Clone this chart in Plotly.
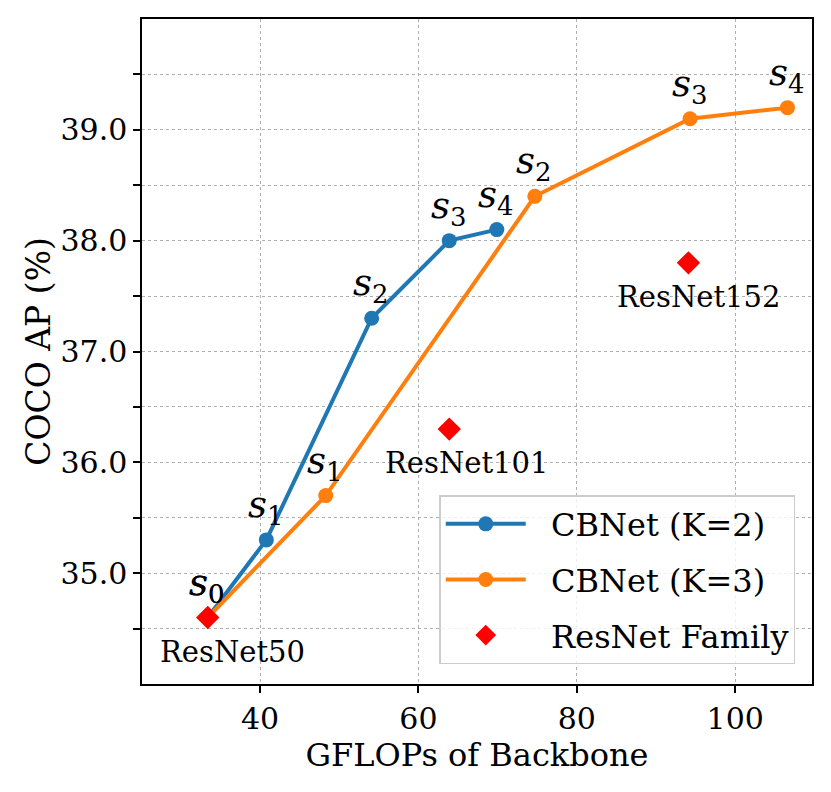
import plotly.graph_objects as go

# Data
k2_gflops = [33.4, 40.8, 54.1, 63.9, 69.9]
k2_ap = [34.6, 35.3, 37.3, 38.0, 38.1]
k3_gflops = [33.4, 48.3, 74.7, 94.3, 106.6]
k3_ap = [34.6, 35.7, 38.4, 39.1, 39.2]
stage_labels = ["0", "1", "2", "3", "4"]
resnet_names = ["ResNet50", "ResNet101", "ResNet152"]
resnet_gflops = [33.4, 63.9, 94.1]
resnet_ap = [34.6, 36.3, 37.8]
series_names = ["CBNet (K=2)", "CBNet (K=3)", "ResNet Family"]

FONT = "DejaVu Serif"
BLUE = "#1f77b4"
ORANGE = "#ff7f0e"
PAD = "\u00a0\u00a0"

fig = go.Figure()
fig.add_trace(go.Scatter(x=k2_gflops, y=k2_ap, mode="lines+markers", name=PAD + series_names[0],
                         line=dict(color=BLUE, width=4), marker=dict(size=15, color=BLUE),
                         legendgroup="a"))
fig.add_trace(go.Scatter(x=k3_gflops, y=k3_ap, mode="lines+markers", name=PAD + series_names[1],
                         line=dict(color=ORANGE, width=4), marker=dict(size=15, color=ORANGE),
                         legendgroup="b"))
fig.add_trace(go.Scatter(x=resnet_gflops, y=resnet_ap, mode="markers", name=PAD + series_names[2],
                         marker=dict(symbol="diamond", size=18, color="#ff0000"),
                         legendgroup="c"))

annotations = []
for xs, ys in [(k2_gflops, k2_ap), (k3_gflops, k3_ap)]:
    for x, y, s in zip(xs, ys, stage_labels):
        annotations.append(dict(x=x, y=y, xref="x", yref="y", showarrow=False,
                                text=f"<i>s</i><sub>{s}</sub>", xshift=-1, yshift=33,
                                font=dict(family=FONT, size=37, color="black")))
res_xshift = [25, 17, 10]
for x, y, n, dx in zip(resnet_gflops, resnet_ap, resnet_names, res_xshift):
    annotations.append(dict(x=x, y=y, xref="x", yref="y", showarrow=False, text=n,
                            xshift=dx, yshift=-34,
                            font=dict(family=FONT, size=29, color="black")))

fig.update_layout(
    width=831, height=792,
    margin=dict(l=134, r=27, t=9, b=116),
    paper_bgcolor="white", plot_bgcolor="white",
    font=dict(family=FONT, size=30, color="black"),
    annotations=annotations,
    showlegend=True,
    legend=dict(x=0.975, y=0.03, xanchor="right", yanchor="bottom",
                bgcolor="rgba(255,255,255,0.8)", bordercolor="#cccccc", borderwidth=1.5,
                font=dict(family=FONT, size=32), tracegroupgap=11, traceorder="grouped",
                itemwidth=80),
    xaxis=dict(range=[25.1, 109.7], tickmode="array", tickvals=[40, 60, 80, 100],
               showline=True, linecolor="black", linewidth=1.5, mirror=True,
               ticks="outside", ticklen=7, tickwidth=1.5, tickcolor="black",
               showgrid=True, gridcolor="#b0b0b0", griddash="dot", gridwidth=1,
               zeroline=False,
               title=dict(text="GFLOPs of Backbone", font=dict(size=32), standoff=8),
               tickfont=dict(size=30)),
    yaxis=dict(range=[34.0, 40.0], tickmode="array", tickvals=[35, 36, 37, 38, 39],
               ticktext=["35.0", "36.0", "37.0", "38.0", "39.0"],
               showline=True, linecolor="black", linewidth=1.5, mirror=True,
               ticks="outside", ticklen=7, tickwidth=1.5, tickcolor="black",
               showgrid=True, gridcolor="#b0b0b0", griddash="dot", gridwidth=1,
               zeroline=False,
               minor=dict(tickvals=[34.5, 35.5, 36.5, 37.5, 38.5, 39.5], ticks="outside",
                          ticklen=7, tickwidth=1.5, tickcolor="black", showgrid=True,
                          gridcolor="#b0b0b0", griddash="dot", gridwidth=1),
               title=dict(text="COCO AP (%)", font=dict(size=33), standoff=0),
               tickfont=dict(size=30)),
)

fig.write_html("out.html")
